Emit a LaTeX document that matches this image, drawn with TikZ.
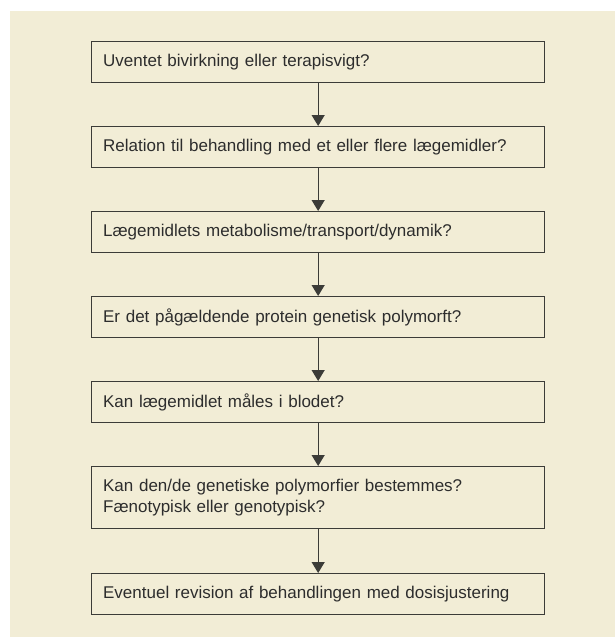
\documentclass[tikz,border=0pt]{standalone}
\usepackage{fontspec}
\setmainfont{Liberation Sans}
\usetikzlibrary{arrows.meta}
\definecolor{panelbg}{RGB}{242,237,214}
\definecolor{boxline}{RGB}{60,60,56}
\definecolor{txt}{RGB}{45,45,45}
\tikzset{
  stepbox/.style={draw=boxline, line width=1.3pt, rectangle, anchor=north west,
    minimum width=453pt, minimum height=41pt, inner xsep=11.5pt, inner ysep=0pt,
    text width=430pt, align=left, text=txt,
    font=\fontsize{17}{21}\selectfont},
  flowarrow/.style={draw=boxline, line width=1.2pt, -{Triangle[width=13pt,length=11pt]}}
}
\begin{document}
\begin{tikzpicture}[x=1pt,y=-1pt]
\useasboundingbox (0,0) rectangle (615,637);
\fill[panelbg] (10,11) rectangle (615,637);
\node[stepbox] (b1) at (91,41) {Uventet bivirkning eller terapisvigt?};
\node[stepbox] (b2) at (91,126) {Relation til behandling med et eller flere lægemidler?};
\node[stepbox] (b3) at (91,211) {Lægemidlets metabolisme/transport/dynamik?};
\node[stepbox] (b4) at (91,296) {Er det pågældende protein genetisk polymorft?};
\node[stepbox] (b5) at (91,381) {Kan lægemidlet måles i blodet?};
\node[stepbox, minimum height=62pt] (b6) at (91,466) {Kan den/de genetiske polymorfier bestemmes?\\Fænotypisk eller genotypisk?};
\node[stepbox] (b7) at (91,573) {Eventuel revision af behandlingen med dosisjustering};
\foreach \a/\b in {b1/b2,b2/b3,b3/b4,b4/b5,b5/b6,b6/b7}
  \draw[flowarrow] (\a.south) -- (\b.north);
\end{tikzpicture}
\end{document}
